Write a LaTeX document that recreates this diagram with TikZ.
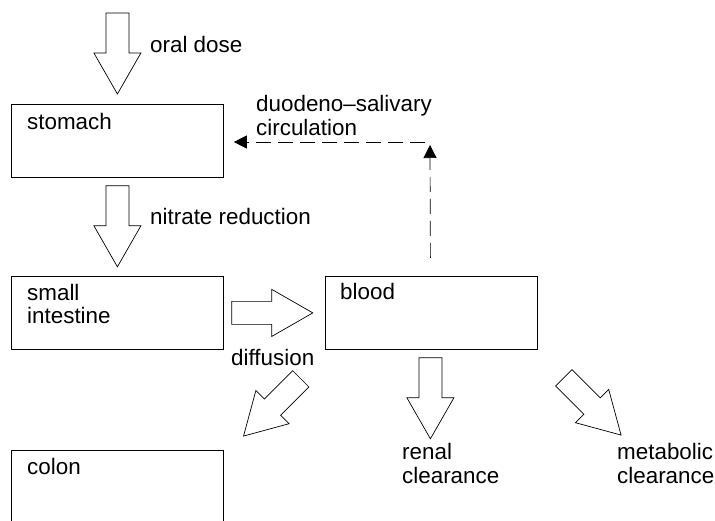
\documentclass[tikz,border=0pt]{standalone}
\usepackage{fontspec}
\setmainfont{Liberation Sans}
\usetikzlibrary{arrows.meta,calc}
\begin{document}
\begin{tikzpicture}[x=1pt,y=-1pt,
  box/.style={draw,line width=0.8pt,minimum width=212pt,minimum height=73pt,inner sep=0pt,anchor=north west},
  txt/.style={font=\fontsize{22.4}{24}\selectfont,inner sep=0pt,anchor=base west,align=left},
  dsh/.style={line width=0.7pt,dash pattern=on 15pt off 7pt,-{Triangle[length=13pt,width=13pt]}},
  pics/blockarrow/.style={code={
    \draw[line width=0.7pt,line join=miter,fill=white]
      (0,-11.5) -- (40,-11.5) -- (40,-23.5) -- (81,0) -- (40,23.5) -- (40,11.5) -- (0,11.5) -- cycle;}}
]
\useasboundingbox (0,0) rectangle (715,521);
\clip (0,0) rectangle (715,521);

% compartments
\node[box] (stomach) at (11,104) {};
\node[box] (small) at (11,276) {};
\node[box] (blood) at (325,276) {};
\node[box,minimum height=100pt] (colon) at (11,450) {};

% compartment names (two-line labels sit on the baseline of their last line)
\node[txt] (tstomach) at (27,130) {stomach};
\node[txt] (tsmall) at (27,324) {small\\intestine};
\node[txt] (tblood) at (340,300) {blood};
\node[txt] (tcolon) at (27,474) {colon};

% transfer arrows
\pic[rotate=-90] at ($(stomach.north)+(0,-91)$) {blockarrow};
\pic[rotate=-90] at ($(stomach.south)+(0,8)$) {blockarrow};
\pic at ($(small.east)+(8,0)$) {blockarrow};
\pic[rotate=-135] at ($(small.south east)+(77,29)$) {blockarrow};
\pic[rotate=-90] at ($(blood.south)+(-1,8)$) {blockarrow};
\pic[rotate=-45] at ($(blood.south east)+(26,28)$) {blockarrow};

% arrow labels
\node[txt] (toral) at (150,53) {oral dose};
\node[txt] (tnitrate) at (150,225) {nitrate reduction};
\node[txt] (tduo) at (256,136) {duodeno–salivary\\circulation};
\node[txt] (tdiff) at (231,365) {diffusion};
\node[txt] (trenal) at (402,483) {renal\\clearance};
\node[txt] (tmeta) at (617,483) {metabolic\\clearance};

% recirculation path back to the stomach
\coordinate (dtail) at ($(blood.north)+(-1,-18)$);
\coordinate (dtip) at (430,145);
\coordinate (corner) at (425,142);
\draw[dsh] (dtail) -- (dtip);
\draw[dsh] (corner) -- ([xshift=10pt]stomach.east |- corner);
\end{tikzpicture}
\end{document}
